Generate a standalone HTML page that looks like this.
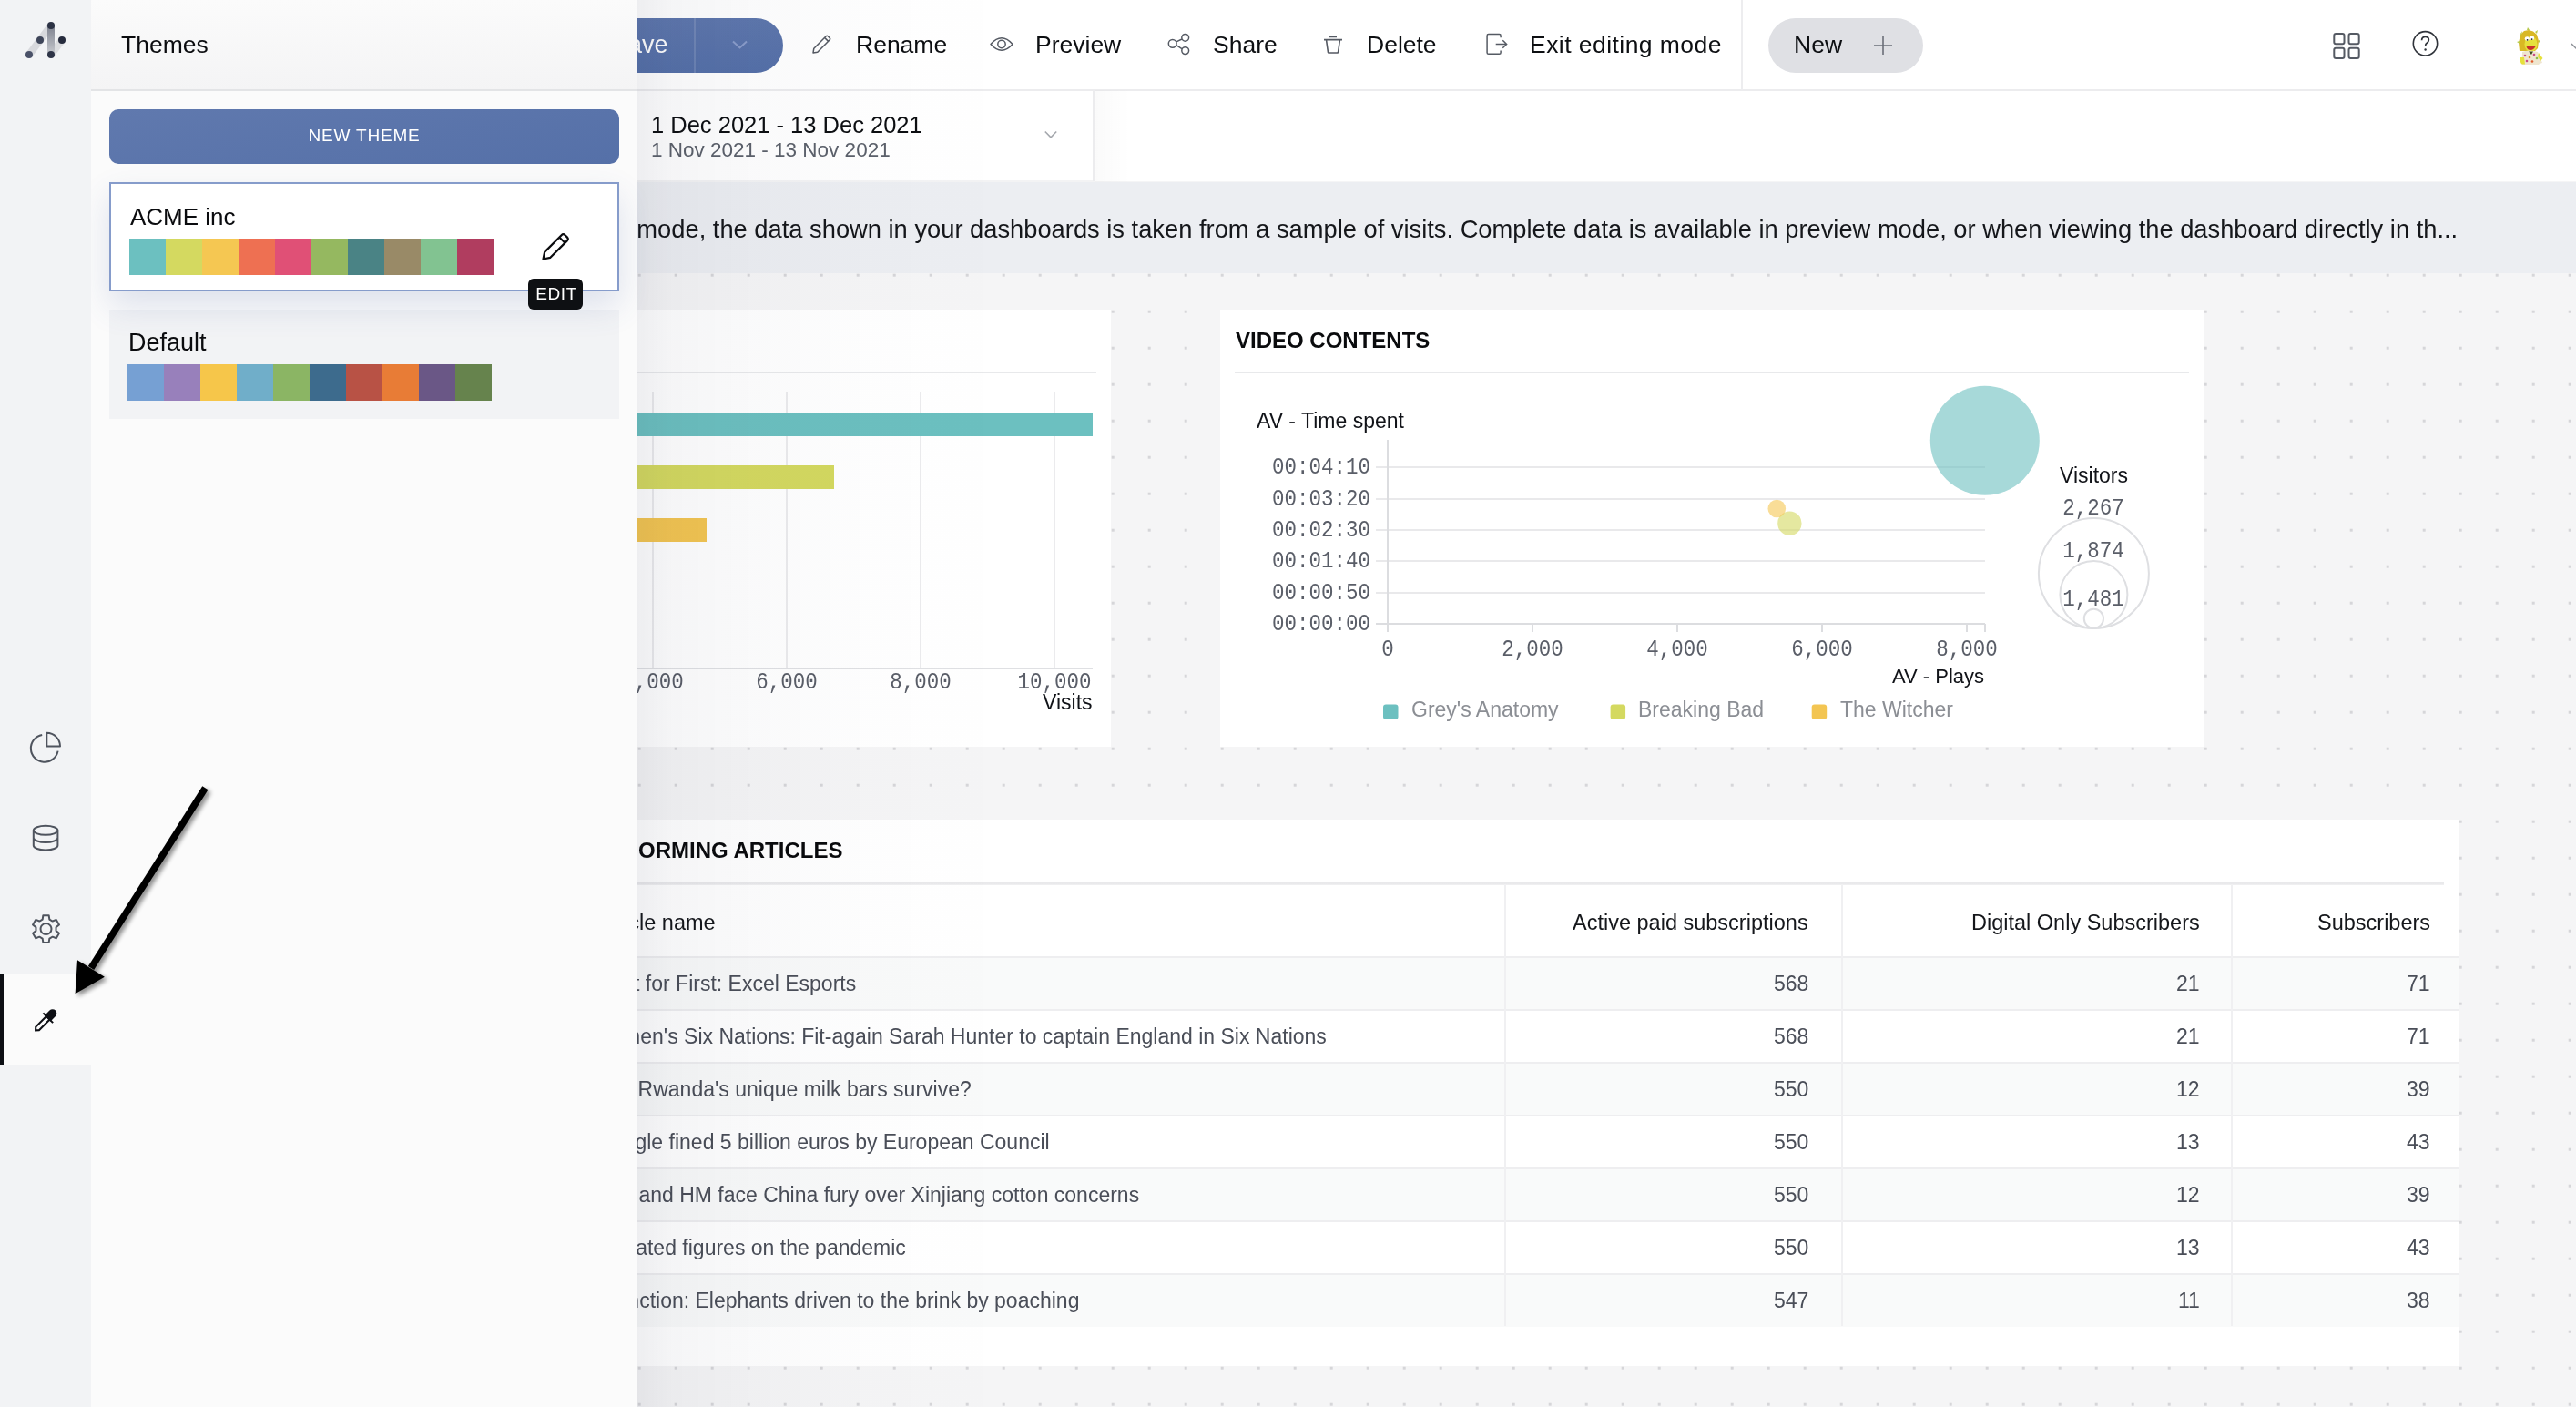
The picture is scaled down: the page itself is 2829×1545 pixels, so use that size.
<!DOCTYPE html>
<html><head><meta charset="utf-8">
<style>
*{margin:0;padding:0;box-sizing:border-box}
html,body{width:2829px;height:1545px;overflow:hidden}
body{position:relative;font-family:"Liberation Sans",sans-serif;background:#f5f5f6;color:#101216}
.a{position:absolute}
.t{position:absolute;white-space:nowrap;line-height:1;will-change:transform}
.dots{position:absolute;left:100px;top:300px;width:2729px;height:1245px;
 background-image:conic-gradient(at 2.6px 2.6px,rgba(0,0,0,0) 75%,#d6d6d9 75%);
 background-size:40px 40px;background-position:-79.3px -279.3px}
svg{position:absolute;overflow:visible}
</style></head><body>
<div class="dots"></div>

<div class="a" style="left:100px;top:0;width:2729px;height:99px;background:#fff"></div>
<div class="a" style="left:100px;top:98px;width:2729px;height:2px;background:#ececee"></div>
<div class="a" style="left:100px;top:100px;width:2729px;height:99px;background:#fff"></div>
<div class="a" style="left:100px;top:198px;width:1102px;height:2px;background:#f3f3f4"></div>
<div class="a" style="left:1200px;top:99px;width:2px;height:100px;background:#ececee"></div>
<div class="a" style="left:1202px;top:99px;width:40px;height:101px;background:linear-gradient(to right,rgba(0,0,0,0.018),rgba(0,0,0,0))"></div>
<div class="a" style="left:100px;top:200px;width:2729px;height:100px;background:#eceef2"></div>
<div class="t" style="top:237.60px;font-size:27.3px;color:#15171b;font-family:'Liberation Sans',sans-serif;right:130.00px;text-align:right;">In editing mode, the data shown in your dashboards is taken from a sample of visits. Complete data is available in preview mode, or when viewing the dashboard directly in th...</div>
<div class="a" style="left:560px;top:20px;width:300px;height:60px;border-radius:0 30px 30px 0;background:linear-gradient(#5e77ad,#5570a8)"></div>
<div class="a" style="left:762px;top:20px;width:2px;height:60px;background:rgba(255,255,255,0.13)"></div>
<svg style="left:804px;top:44px" width="17" height="10" viewBox="0 0 17 10"><path d="M1 1.5 L8.5 8.5 L16 1.5" fill="none" stroke="#8a9dca" stroke-width="2"/></svg>
<div class="t" style="top:35.85px;font-size:27px;color:#ffffff;font-family:'Liberation Sans',sans-serif;right:2095.00px;text-align:right;font-weight:400;">Save</div>
<svg style="left:890px;top:36px" width="24" height="24" viewBox="0 0 24 24"><path d="M3 22 L3.8 17.2 L17.2 3.8 Q18.2 2.8 19.2 3.8 L21.2 5.8 Q22.2 6.8 21.2 7.8 L7.8 21.2 Z M15.6 5.4 L19.6 9.4" fill="none" stroke="#555a63" stroke-width="1.5" stroke-linejoin="round"/></svg>
<div class="t" style="top:36.07px;font-size:26.5px;color:#0d0f12;font-family:'Liberation Sans',sans-serif;left:940.00px;">Rename</div>
<svg style="left:1086px;top:36px" width="28" height="26" viewBox="0 0 28 26"><path d="M2 12.5 Q14 -1 26 12.5 Q14 26 2 12.5 Z" fill="none" stroke="#555a63" stroke-width="1.5" stroke-linejoin="round"/><circle cx="14" cy="12.5" r="4.2" fill="none" stroke="#555a63" stroke-width="1.5"/></svg>
<div class="t" style="top:36.07px;font-size:26.5px;color:#0d0f12;font-family:'Liberation Sans',sans-serif;left:1137.00px;">Preview</div>
<svg style="left:1280px;top:34px" width="28" height="28" viewBox="0 0 28 28"><circle cx="7.7" cy="13.8" r="4.4" fill="none" stroke="#555a63" stroke-width="1.5"/><circle cx="21.7" cy="7.3" r="3.9" fill="none" stroke="#555a63" stroke-width="1.5"/><circle cx="21.7" cy="21.6" r="3.9" fill="none" stroke="#555a63" stroke-width="1.5"/><path d="M11.8 11.9 L18 9 M11.8 15.7 L18 19.6" stroke="#555a63" stroke-width="1.5"/></svg>
<div class="t" style="top:36.07px;font-size:26.5px;color:#0d0f12;font-family:'Liberation Sans',sans-serif;left:1332.00px;">Share</div>
<svg style="left:1450px;top:36px" width="28" height="26" viewBox="0 0 28 26"><path d="M4 7.6 L24 7.6 M10 4.4 L18 4.4 M6.5 7.6 L8.5 21.5 Q8.6 22 9.2 22 L18.8 22 Q19.4 22 19.5 21.5 L21.5 7.6" fill="none" stroke="#555a63" stroke-width="1.6"/></svg>
<div class="t" style="top:36.07px;font-size:26.5px;color:#0d0f12;font-family:'Liberation Sans',sans-serif;left:1501.00px;">Delete</div>
<svg style="left:1630px;top:35px" width="28" height="28" viewBox="0 0 28 28"><path d="M18.1 6.3 L18.1 4.2 Q18.1 2.6 16.5 2.6 L4.7 2.6 Q3.1 2.6 3.1 4.2 L3.1 22.7 Q3.1 24.3 4.7 24.3 L16.5 24.3 Q18.1 24.3 18.1 22.7 L18.1 20.6 M12.7 13.5 L24.6 13.5 M20.3 9.3 L24.6 13.5 L20.3 17.7" fill="none" stroke="#555a63" stroke-width="1.5"/></svg>
<div class="t" style="top:36.07px;font-size:26.5px;color:#0d0f12;font-family:'Liberation Sans',sans-serif;left:1680.00px;letter-spacing:0.45px;">Exit editing mode</div>
<div class="a" style="left:1912px;top:0;width:2px;height:99px;background:#ededef"></div>
<div class="a" style="left:1942px;top:20px;width:170px;height:60px;border-radius:30px;background:#dfe0e4"></div>
<div class="t" style="top:36.07px;font-size:26.5px;color:#0d0f12;font-family:'Liberation Sans',sans-serif;left:1970.00px;">New</div>
<svg style="left:2056px;top:38px" width="24" height="24" viewBox="0 0 24 24"><path d="M12 2 L12 22 M2 12 L22 12" stroke="#6b6f78" stroke-width="1.6"/></svg>
<svg style="left:2560px;top:34px" width="34" height="32" viewBox="0 0 34 32"><rect x="3.3" y="3" width="11.2" height="11.2" rx="2" fill="none" stroke="#555a63" stroke-width="2"/><rect x="19.5" y="3" width="11.2" height="11.2" rx="2" fill="none" stroke="#555a63" stroke-width="2"/><rect x="3.3" y="18.8" width="11.2" height="11.2" rx="2" fill="none" stroke="#555a63" stroke-width="2"/><rect x="19.5" y="18.8" width="11.2" height="11.2" rx="2" fill="none" stroke="#555a63" stroke-width="2"/></svg>
<svg style="left:2648px;top:32px" width="32" height="32" viewBox="0 0 32 32"><circle cx="15.5" cy="15.8" r="13.2" fill="none" stroke="#2f333a" stroke-width="1.6"/><path d="M11.6 12.2 Q11.6 8.3 15.6 8.3 Q19.4 8.3 19.4 11.8 Q19.4 14 17.2 15.2 Q15.6 16.1 15.6 18.4" fill="none" stroke="#2f333a" stroke-width="1.7"/><circle cx="15.6" cy="22.5" r="1.2" fill="#2f333a"/></svg>
<svg style="left:2755px;top:25px" width="45" height="50" viewBox="0 0 45 50">
<path d="M12 31 L11 22 L13 13 L17 9 L22 8 L27 9.5 L31 13 L33 20 L32 28 L29 31 Z" fill="#d9b824"/>
<path d="M13 12 L15 9 L14 14 Z M20 8 L21 5 L23 8 Z M29 10 L32 8 L31 12 Z M12 20 L9 21 L12 23 Z M33 19 L35 20 L33 22 Z" fill="#b8c94a"/>
<ellipse cx="24.5" cy="23.5" rx="7" ry="8.5" fill="#e6e13c"/>
<ellipse cx="20.3" cy="17.5" rx="2.6" ry="2.2" fill="#fff"/><ellipse cx="25.6" cy="16.8" rx="2.6" ry="2.2" fill="#fff"/>
<circle cx="20.6" cy="18.8" r="0.9" fill="#222"/><circle cx="25.6" cy="18.1" r="0.9" fill="#222"/>
<path d="M19.5 26.2 Q24.5 25 29.5 26 Q27.5 30 24 30 Q20.5 29.6 19.5 26.2 Z" fill="#c8302c"/>
<path d="M15 32 Q22 29 32 32 L37 44 L34 45 L33 46 L14.5 46 Z" fill="#efe6cf"/>
<circle cx="18" cy="36" r="1.3" fill="#c94c86"/><circle cx="23" cy="38" r="1.3" fill="#e0902c"/><circle cx="28" cy="35" r="1.3" fill="#c94c86"/>
<circle cx="20" cy="42" r="1.3" fill="#c94c86"/><circle cx="26" cy="42.5" r="1.3" fill="#e35a2a"/><circle cx="31" cy="39" r="1.3" fill="#8cbf4a"/>
<path d="M22 31.5 L25 35 L27 31.5 Z" fill="#3f4a22"/>
<path d="M13 38 Q12 45 15 45.5 L18 45.5 L17 38 Z" fill="#e6e13c"/>
<path d="M33 33 L37.5 39 L35 42 L32 37 Z" fill="#e6e13c"/>
</svg>
<svg style="left:2823px;top:46.5px" width="14" height="10" viewBox="0 0 14 10"><path d="M1 1 L7 7 L13 1" fill="none" stroke="#8c9097" stroke-width="1.5"/></svg>
<div class="t" style="top:125.12px;font-size:25.5px;color:#0d0f12;font-family:'Liberation Sans',sans-serif;left:715.00px;">1 Dec 2021 - 13 Dec 2021</div>
<div class="t" style="top:153.68px;font-size:22.5px;color:#5c616b;font-family:'Liberation Sans',sans-serif;left:715.00px;">1 Nov 2021 - 13 Nov 2021</div>
<svg style="left:1146px;top:143px" width="16" height="10" viewBox="0 0 16 10"><path d="M1.8 1.5 L8 7.8 L14.2 1.5" fill="none" stroke="#a4a7ad" stroke-width="1.6"/></svg>
<div class="a" style="left:560px;top:340px;width:660px;height:480px;background:#fff"></div>
<div class="a" style="left:560px;top:408px;width:644px;height:2px;background:#e8e9eb"></div>
<div class="a" style="left:568.5px;top:430px;width:2px;height:304px;background:#ebebed"></div>
<div class="a" style="left:715.6px;top:430px;width:2px;height:304px;background:#ebebed"></div>
<div class="a" style="left:862.7px;top:430px;width:2px;height:304px;background:#ebebed"></div>
<div class="a" style="left:1009.8px;top:430px;width:2px;height:304px;background:#ebebed"></div>
<div class="a" style="left:1157.0px;top:430px;width:2px;height:304px;background:#ebebed"></div>
<div class="a" style="left:560px;top:733px;width:640px;height:2px;background:#dfe0e3"></div>
<div class="a" style="left:560px;top:453px;width:640px;height:26px;background:#6cc0c0"></div>
<div class="a" style="left:560px;top:511px;width:356px;height:26px;background:#d4d960"></div>
<div class="a" style="left:560px;top:569px;width:216px;height:26px;background:#f3c552"></div>
<div class="t" style="top:738.00px;font-size:22.5px;color:#5a5e68;font-family:'Liberation Mono',monospace;transform:scaleY(1.16);transform-origin:50% 9.45px;left:216.60px;width:1000px;text-align:center;">4,000</div>
<div class="t" style="top:738.00px;font-size:22.5px;color:#5a5e68;font-family:'Liberation Mono',monospace;transform:scaleY(1.16);transform-origin:50% 9.45px;left:363.70px;width:1000px;text-align:center;">6,000</div>
<div class="t" style="top:738.00px;font-size:22.5px;color:#5a5e68;font-family:'Liberation Mono',monospace;transform:scaleY(1.16);transform-origin:50% 9.45px;left:510.80px;width:1000px;text-align:center;">8,000</div>
<div class="t" style="top:738.00px;font-size:22.5px;color:#5a5e68;font-family:'Liberation Mono',monospace;transform:scaleY(1.16);transform-origin:50% 9.45px;left:658.00px;width:1000px;text-align:center;">10,000</div>
<div class="t" style="top:759.65px;font-size:23px;color:#111318;font-family:'Liberation Sans',sans-serif;right:1629.00px;text-align:right;">Visits</div>
<div class="a" style="left:1340px;top:340px;width:1080px;height:480px;background:#fff"></div>
<div class="t" style="top:362.40px;font-size:24px;color:#0a0b0d;font-family:'Liberation Sans',sans-serif;font-weight:700;left:1356.50px;">VIDEO CONTENTS</div>
<div class="a" style="left:1356px;top:408px;width:1048px;height:2px;background:#e8e9eb"></div>
<div class="t" style="top:451.25px;font-size:23px;color:#111318;font-family:'Liberation Sans',sans-serif;left:1380.00px;">AV - Time spent</div>
<div class="a" style="left:1511px;top:511.8px;width:669px;height:2px;background:#e9e9eb"></div>
<div class="t" style="top:501.85px;font-size:22.5px;color:#5a5e68;font-family:'Liberation Mono',monospace;transform:scaleY(1.16);transform-origin:50% 9.45px;right:1323.50px;text-align:right;">00:04:10</div>
<div class="a" style="left:1511px;top:546.8px;width:669px;height:2px;background:#e9e9eb"></div>
<div class="t" style="top:536.85px;font-size:22.5px;color:#5a5e68;font-family:'Liberation Mono',monospace;transform:scaleY(1.16);transform-origin:50% 9.45px;right:1323.50px;text-align:right;">00:03:20</div>
<div class="a" style="left:1511px;top:581.0px;width:669px;height:2px;background:#e9e9eb"></div>
<div class="t" style="top:571.05px;font-size:22.5px;color:#5a5e68;font-family:'Liberation Mono',monospace;transform:scaleY(1.16);transform-origin:50% 9.45px;right:1323.50px;text-align:right;">00:02:30</div>
<div class="a" style="left:1511px;top:615.3px;width:669px;height:2px;background:#e9e9eb"></div>
<div class="t" style="top:605.35px;font-size:22.5px;color:#5a5e68;font-family:'Liberation Mono',monospace;transform:scaleY(1.16);transform-origin:50% 9.45px;right:1323.50px;text-align:right;">00:01:40</div>
<div class="a" style="left:1511px;top:649.6px;width:669px;height:2px;background:#e9e9eb"></div>
<div class="t" style="top:639.65px;font-size:22.5px;color:#5a5e68;font-family:'Liberation Mono',monospace;transform:scaleY(1.16);transform-origin:50% 9.45px;right:1323.50px;text-align:right;">00:00:50</div>
<div class="a" style="left:1511px;top:683.9px;width:669px;height:2px;background:#e9e9eb"></div>
<div class="t" style="top:673.95px;font-size:22.5px;color:#5a5e68;font-family:'Liberation Mono',monospace;transform:scaleY(1.16);transform-origin:50% 9.45px;right:1323.50px;text-align:right;">00:00:00</div>
<div class="a" style="left:1511px;top:684px;width:669px;height:2px;background:#dcdde0"></div>
<div class="a" style="left:1523.3px;top:483px;width:2px;height:211px;background:#dcdde0"></div>
<div class="a" style="left:1523.3px;top:685px;width:2px;height:9px;background:#dcdde0"></div>
<div class="t" style="top:701.70px;font-size:22.5px;color:#5a5e68;font-family:'Liberation Mono',monospace;transform:scaleY(1.16);transform-origin:50% 9.45px;left:1024.30px;width:1000px;text-align:center;">0</div>
<div class="a" style="left:1681.7px;top:685px;width:2px;height:9px;background:#dcdde0"></div>
<div class="t" style="top:701.70px;font-size:22.5px;color:#5a5e68;font-family:'Liberation Mono',monospace;transform:scaleY(1.16);transform-origin:50% 9.45px;left:1182.70px;width:1000px;text-align:center;">2,000</div>
<div class="a" style="left:1840.6px;top:685px;width:2px;height:9px;background:#dcdde0"></div>
<div class="t" style="top:701.70px;font-size:22.5px;color:#5a5e68;font-family:'Liberation Mono',monospace;transform:scaleY(1.16);transform-origin:50% 9.45px;left:1341.60px;width:1000px;text-align:center;">4,000</div>
<div class="a" style="left:1999.9px;top:685px;width:2px;height:9px;background:#dcdde0"></div>
<div class="t" style="top:701.70px;font-size:22.5px;color:#5a5e68;font-family:'Liberation Mono',monospace;transform:scaleY(1.16);transform-origin:50% 9.45px;left:1500.90px;width:1000px;text-align:center;">6,000</div>
<div class="a" style="left:2159.0px;top:685px;width:2px;height:9px;background:#dcdde0"></div>
<div class="t" style="top:701.70px;font-size:22.5px;color:#5a5e68;font-family:'Liberation Mono',monospace;transform:scaleY(1.16);transform-origin:50% 9.45px;left:1660.00px;width:1000px;text-align:center;">8,000</div>
<div class="a" style="left:2179px;top:685px;width:2px;height:9px;background:#dcdde0"></div>
<div class="t" style="top:731.90px;font-size:22px;color:#111318;font-family:'Liberation Sans',sans-serif;right:649.50px;text-align:right;">AV - Plays</div>
<svg style="left:1340px;top:340px" width="1080" height="480" viewBox="1340 340 1080 480">
<circle cx="2179.8" cy="483.7" r="60" fill="rgba(108,192,192,0.6)"/>
<circle cx="1965.4" cy="574.7" r="13.2" fill="rgba(212,217,96,0.6)"/>
<circle cx="1951.3" cy="558.5" r="9.8" fill="rgba(245,199,82,0.6)"/>
<circle cx="2299.4" cy="629.5" r="60.5" fill="none" stroke="#dedfe2" stroke-width="2"/>
<circle cx="2299.4" cy="653" r="37" fill="none" stroke="#dedfe2" stroke-width="2"/>
<circle cx="2299.4" cy="679.3" r="10.6" fill="none" stroke="#dedfe2" stroke-width="2"/>
<rect x="1519" y="773.5" width="16.5" height="16.5" rx="3" fill="#6cc0c0"/>
<rect x="1768.6" y="773.5" width="16.5" height="16.5" rx="3" fill="#d4d960"/>
<rect x="1989.7" y="773.5" width="16.5" height="16.5" rx="3" fill="#f3c552"/>
</svg>
<div class="t" style="top:510.65px;font-size:23px;color:#111318;font-family:'Liberation Sans',sans-serif;left:2261.70px;">Visitors</div>
<div class="t" style="top:547.30px;font-size:22.5px;color:#5a5e68;font-family:'Liberation Mono',monospace;transform:scaleY(1.16);transform-origin:50% 9.45px;left:1799.40px;width:1000px;text-align:center;">2,267</div>
<div class="t" style="top:593.55px;font-size:22.5px;color:#5a5e68;font-family:'Liberation Mono',monospace;transform:scaleY(1.16);transform-origin:50% 9.45px;left:1799.40px;width:1000px;text-align:center;">1,874</div>
<div class="t" style="top:647.25px;font-size:22.5px;color:#5a5e68;font-family:'Liberation Mono',monospace;transform:scaleY(1.16);transform-origin:50% 9.45px;left:1799.40px;width:1000px;text-align:center;">1,481</div>
<div class="t" style="top:767.75px;font-size:23px;color:#8b8e94;font-family:'Liberation Sans',sans-serif;left:1550.00px;">Grey's Anatomy</div>
<div class="t" style="top:767.75px;font-size:23px;color:#8b8e94;font-family:'Liberation Sans',sans-serif;left:1799.00px;">Breaking Bad</div>
<div class="t" style="top:767.75px;font-size:23px;color:#8b8e94;font-family:'Liberation Sans',sans-serif;left:2020.50px;">The Witcher</div>
<div class="a" style="left:560px;top:900px;width:2140px;height:600px;background:#fff"></div>
<div class="t" style="top:922.40px;font-size:24px;color:#0a0b0d;font-family:'Liberation Sans',sans-serif;font-weight:700;left:700.50px;">ORMING ARTICLES</div>
<div class="a" style="left:560px;top:968px;width:2124px;height:4px;background:linear-gradient(#e9e9eb 0,#e9e9eb 60%,#f2f2f3 100%)"></div>
<div class="a" style="left:560px;top:1051px;width:2140px;height:58px;background:#f9fafa"></div>
<div class="a" style="left:560px;top:1109px;width:2140px;height:58px;background:#ffffff"></div>
<div class="a" style="left:560px;top:1167px;width:2140px;height:58px;background:#f9fafa"></div>
<div class="a" style="left:560px;top:1225px;width:2140px;height:58px;background:#ffffff"></div>
<div class="a" style="left:560px;top:1283px;width:2140px;height:58px;background:#f9fafa"></div>
<div class="a" style="left:560px;top:1341px;width:2140px;height:58px;background:#ffffff"></div>
<div class="a" style="left:560px;top:1399px;width:2140px;height:58px;background:#f9fafa"></div>
<div class="a" style="left:560px;top:1050px;width:2140px;height:2px;background:#eeeef0"></div>
<div class="a" style="left:560px;top:1108px;width:2140px;height:2px;background:#eeeef0"></div>
<div class="a" style="left:560px;top:1166px;width:2140px;height:2px;background:#eeeef0"></div>
<div class="a" style="left:560px;top:1224px;width:2140px;height:2px;background:#eeeef0"></div>
<div class="a" style="left:560px;top:1282px;width:2140px;height:2px;background:#eeeef0"></div>
<div class="a" style="left:560px;top:1340px;width:2140px;height:2px;background:#eeeef0"></div>
<div class="a" style="left:560px;top:1398px;width:2140px;height:2px;background:#eeeef0"></div>
<div class="a" style="left:1652px;top:971px;width:2px;height:485px;background:#f0f0f2"></div>
<div class="a" style="left:2022px;top:971px;width:2px;height:485px;background:#f0f0f2"></div>
<div class="a" style="left:2450px;top:971px;width:2px;height:485px;background:#f0f0f2"></div>
<div class="t" style="top:1001.62px;font-size:23.5px;color:#15171b;font-family:'Liberation Sans',sans-serif;left:655.30px;">Article name</div>
<div class="t" style="top:1001.62px;font-size:23.5px;color:#15171b;font-family:'Liberation Sans',sans-serif;right:843.00px;text-align:right;">Active paid subscriptions</div>
<div class="t" style="top:1001.62px;font-size:23.5px;color:#15171b;font-family:'Liberation Sans',sans-serif;right:413.50px;text-align:right;">Digital Only Subscribers</div>
<div class="t" style="top:1001.62px;font-size:23.5px;color:#15171b;font-family:'Liberation Sans',sans-serif;right:160.00px;text-align:right;">Subscribers</div>
<div class="t" style="top:1069.25px;font-size:23px;color:#4a4e58;font-family:'Liberation Sans',sans-serif;left:659.14px;">Last for First: Excel Esports</div>
<div class="t" style="top:1069.25px;font-size:23px;color:#4a4e58;font-family:'Liberation Sans',sans-serif;right:843.00px;text-align:right;">568</div>
<div class="t" style="top:1069.25px;font-size:23px;color:#4a4e58;font-family:'Liberation Sans',sans-serif;right:413.50px;text-align:right;">21</div>
<div class="t" style="top:1069.25px;font-size:23px;color:#4a4e58;font-family:'Liberation Sans',sans-serif;right:160.00px;text-align:right;">71</div>
<div class="t" style="top:1127.25px;font-size:23px;color:#4a4e58;font-family:'Liberation Sans',sans-serif;left:650.06px;">Women's Six Nations: Fit-again Sarah Hunter to captain England in Six Nations</div>
<div class="t" style="top:1127.25px;font-size:23px;color:#4a4e58;font-family:'Liberation Sans',sans-serif;right:843.00px;text-align:right;">568</div>
<div class="t" style="top:1127.25px;font-size:23px;color:#4a4e58;font-family:'Liberation Sans',sans-serif;right:413.50px;text-align:right;">21</div>
<div class="t" style="top:1127.25px;font-size:23px;color:#4a4e58;font-family:'Liberation Sans',sans-serif;right:160.00px;text-align:right;">71</div>
<div class="t" style="top:1185.25px;font-size:23px;color:#4a4e58;font-family:'Liberation Sans',sans-serif;left:651.92px;">Can Rwanda's unique milk bars survive?</div>
<div class="t" style="top:1185.25px;font-size:23px;color:#4a4e58;font-family:'Liberation Sans',sans-serif;right:843.00px;text-align:right;">550</div>
<div class="t" style="top:1185.25px;font-size:23px;color:#4a4e58;font-family:'Liberation Sans',sans-serif;right:413.50px;text-align:right;">12</div>
<div class="t" style="top:1185.25px;font-size:23px;color:#4a4e58;font-family:'Liberation Sans',sans-serif;right:160.00px;text-align:right;">39</div>
<div class="t" style="top:1243.25px;font-size:23px;color:#4a4e58;font-family:'Liberation Sans',sans-serif;left:653.74px;">Google fined 5 billion euros by European Council</div>
<div class="t" style="top:1243.25px;font-size:23px;color:#4a4e58;font-family:'Liberation Sans',sans-serif;right:843.00px;text-align:right;">550</div>
<div class="t" style="top:1243.25px;font-size:23px;color:#4a4e58;font-family:'Liberation Sans',sans-serif;right:413.50px;text-align:right;">13</div>
<div class="t" style="top:1243.25px;font-size:23px;color:#4a4e58;font-family:'Liberation Sans',sans-serif;right:160.00px;text-align:right;">43</div>
<div class="t" style="top:1301.25px;font-size:23px;color:#4a4e58;font-family:'Liberation Sans',sans-serif;left:649.30px;">Nike and HM face China fury over Xinjiang cotton concerns</div>
<div class="t" style="top:1301.25px;font-size:23px;color:#4a4e58;font-family:'Liberation Sans',sans-serif;right:843.00px;text-align:right;">550</div>
<div class="t" style="top:1301.25px;font-size:23px;color:#4a4e58;font-family:'Liberation Sans',sans-serif;right:413.50px;text-align:right;">12</div>
<div class="t" style="top:1301.25px;font-size:23px;color:#4a4e58;font-family:'Liberation Sans',sans-serif;right:160.00px;text-align:right;">39</div>
<div class="t" style="top:1359.25px;font-size:23px;color:#4a4e58;font-family:'Liberation Sans',sans-serif;left:656.02px;">Updated figures on the pandemic</div>
<div class="t" style="top:1359.25px;font-size:23px;color:#4a4e58;font-family:'Liberation Sans',sans-serif;right:843.00px;text-align:right;">550</div>
<div class="t" style="top:1359.25px;font-size:23px;color:#4a4e58;font-family:'Liberation Sans',sans-serif;right:413.50px;text-align:right;">13</div>
<div class="t" style="top:1359.25px;font-size:23px;color:#4a4e58;font-family:'Liberation Sans',sans-serif;right:160.00px;text-align:right;">43</div>
<div class="t" style="top:1417.25px;font-size:23px;color:#4a4e58;font-family:'Liberation Sans',sans-serif;left:651.17px;">Extinction: Elephants driven to the brink by poaching</div>
<div class="t" style="top:1417.25px;font-size:23px;color:#4a4e58;font-family:'Liberation Sans',sans-serif;right:843.00px;text-align:right;">547</div>
<div class="t" style="top:1417.25px;font-size:23px;color:#4a4e58;font-family:'Liberation Sans',sans-serif;right:413.50px;text-align:right;">11</div>
<div class="t" style="top:1417.25px;font-size:23px;color:#4a4e58;font-family:'Liberation Sans',sans-serif;right:160.00px;text-align:right;">38</div>
<div class="a" style="left:700px;top:0;width:420px;height:1545px;background:linear-gradient(to right,rgba(25,30,60,0.075) 0px,rgba(25,30,60,0.045) 40px,rgba(25,30,60,0.022) 130px,rgba(25,30,60,0.008) 260px,rgba(25,30,60,0) 420px)"></div>
<div class="a" style="left:100px;top:0;width:600px;height:1545px;background:#fbfbfb;"></div>
<div class="a" style="left:100px;top:0;width:600px;height:98px;background:linear-gradient(#fbfbfb,#f4f4f5)"></div>
<div class="a" style="left:100px;top:98px;width:600px;height:2px;background:#e3e4e6"></div>
<div class="t" style="top:36.27px;font-size:26.5px;color:#0b0c0f;font-family:'Liberation Sans',sans-serif;left:133.00px;">Themes</div>
<div class="a" style="left:120px;top:120px;width:560px;height:60px;border-radius:10px;background:linear-gradient(170deg,#6079ae,#5570a8)"></div>
<div class="t" style="top:138.65px;font-size:19px;color:#ffffff;font-family:'Liberation Sans',sans-serif;left:-100.00px;width:1000px;text-align:center;letter-spacing:0.8px;">NEW THEME</div>
<div class="a" style="left:120px;top:340px;width:560px;height:120px;background:#f2f3f5"></div>
<div class="t" style="top:362.85px;font-size:27px;color:#0b0c0f;font-family:'Liberation Sans',sans-serif;left:141.00px;">Default</div>
<div class="a" style="left:140px;top:400px;width:40px;height:40px;background:#76a0d3"></div>
<div class="a" style="left:180px;top:400px;width:40px;height:40px;background:#9880bb"></div>
<div class="a" style="left:220px;top:400px;width:40px;height:40px;background:#f6c64a"></div>
<div class="a" style="left:260px;top:400px;width:40px;height:40px;background:#70aec9"></div>
<div class="a" style="left:300px;top:400px;width:40px;height:40px;background:#8bb564"></div>
<div class="a" style="left:340px;top:400px;width:40px;height:40px;background:#3d6b8d"></div>
<div class="a" style="left:380px;top:400px;width:40px;height:40px;background:#b85245"></div>
<div class="a" style="left:420px;top:400px;width:40px;height:40px;background:#e87c36"></div>
<div class="a" style="left:460px;top:400px;width:40px;height:40px;background:#6a5786"></div>
<div class="a" style="left:500px;top:400px;width:40px;height:40px;background:#66834d"></div>
<div class="a" style="left:120px;top:200px;width:560px;height:120px;background:#fff;border:2px solid #869ccb;box-shadow:0 16px 34px rgba(70,95,160,0.16)"></div>
<div class="t" style="top:224.70px;font-size:26px;color:#0b0c0f;font-family:'Liberation Sans',sans-serif;left:142.60px;">ACME inc</div>
<div class="a" style="left:142px;top:262px;width:40px;height:40px;background:#6cc0c0"></div>
<div class="a" style="left:182px;top:262px;width:40px;height:40px;background:#d4d960"></div>
<div class="a" style="left:222px;top:262px;width:40px;height:40px;background:#f5c752"></div>
<div class="a" style="left:262px;top:262px;width:40px;height:40px;background:#ee7052"></div>
<div class="a" style="left:302px;top:262px;width:40px;height:40px;background:#e05076"></div>
<div class="a" style="left:342px;top:262px;width:40px;height:40px;background:#95b860"></div>
<div class="a" style="left:382px;top:262px;width:40px;height:40px;background:#4a8385"></div>
<div class="a" style="left:422px;top:262px;width:40px;height:40px;background:#998a67"></div>
<div class="a" style="left:462px;top:262px;width:40px;height:40px;background:#82c391"></div>
<div class="a" style="left:502px;top:262px;width:40px;height:40px;background:#b03d5f"></div>
<svg style="left:592px;top:252px" width="36" height="36" viewBox="0 0 36 36">
<path d="M4.5 32.5 L6.2 24.6 L24.6 6.2 Q26.6 4.2 28.6 6.2 L30.8 8.4 Q32.8 10.4 30.8 12.4 L12.4 30.8 Z M22.3 8.5 L28.5 14.7" fill="none" stroke="#0b0c0f" stroke-width="2.2" stroke-linejoin="round"/>
</svg>
<div class="a" style="left:580px;top:306px;width:60px;height:34px;border-radius:6px;background:#0e1013"></div>
<div class="t" style="top:312.85px;font-size:19px;color:#ffffff;font-family:'Liberation Sans',sans-serif;left:110.50px;width:1000px;text-align:center;letter-spacing:0.6px;">EDIT</div>
<div class="a" style="left:0;top:0;width:100px;height:1545px;background:#f2f3f5"></div>
<svg style="left:0;top:0" width="100" height="100" viewBox="0 0 100 100">
<defs><linearGradient id="lg1" gradientUnits="userSpaceOnUse" x1="0" y1="28" x2="0" y2="60"><stop offset="0" stop-color="#7d818e"/><stop offset="1" stop-color="#c9cbd0"/></linearGradient></defs>
<path d="M32 60 L56 28" stroke="#d8d9dd" stroke-width="8"/>
<path d="M56 60 L68 44" stroke="#dcdde0" stroke-width="8"/>
<path d="M56 28 L56 60" stroke="url(#lg1)" stroke-width="8"/>
<circle cx="56" cy="28" r="4" fill="#2c3244"/><circle cx="44" cy="44" r="4" fill="#3e4559"/><circle cx="68" cy="44" r="4" fill="#262b3d"/>
<circle cx="32" cy="60" r="4" fill="#4a5168"/><circle cx="56" cy="60" r="4" fill="#2e3447"/>
</svg>
<svg style="left:0;top:780px" width="100" height="400" viewBox="0 780 100 400">
<path d="M46.2 807 A15 15 0 1 0 63.6 824.6" fill="none" stroke="#4f545e" stroke-width="2"/>
<path d="M51.3 804.8 L51.3 819.5 L66 819.5 A14.7 14.7 0 0 0 51.3 804.8 Z" fill="none" stroke="#4f545e" stroke-width="2" stroke-linejoin="round"/>
<ellipse cx="50.1" cy="911.8" rx="13.3" ry="5" fill="none" stroke="#4f545e" stroke-width="2"/>
<path d="M36.8 911.8 L36.8 928.5 A13.3 5 0 0 0 63.4 928.5 L63.4 911.8 M36.8 920 A13.3 5 0 0 0 63.4 920" fill="none" stroke="#4f545e" stroke-width="2"/>
<circle cx="50.5" cy="1020.1" r="6" fill="none" stroke="#4f545e" stroke-width="2"/>
</svg>
<svg style="left:0;top:980px" width="100" height="80" viewBox="0 980 100 80"><path d="M47.34 1005.23 L53.66 1005.23 L54.33 1009.58 L57.70 1011.52 L61.80 1009.93 L64.96 1015.40 L61.53 1018.16 L61.53 1022.04 L64.96 1024.80 L61.80 1030.27 L57.70 1028.68 L54.33 1030.62 L53.66 1034.97 L47.34 1034.97 L46.67 1030.62 L43.30 1028.68 L39.20 1030.27 L36.04 1024.80 L39.47 1022.04 L39.47 1018.16 L36.04 1015.40 L39.20 1009.93 L43.30 1011.52 L46.67 1009.58 Z" fill="none" stroke="#4f545e" stroke-width="2" stroke-linejoin="round"/></svg>
<div class="a" style="left:0;top:1070px;width:100px;height:100px;background:#fbfbfb"></div>
<div class="a" style="left:0;top:1070px;width:4px;height:100px;background:#0d0f14"></div>
<svg style="left:30px;top:1100px" width="40" height="40" viewBox="0 0 40 40">
<g transform="translate(22.75 17.75) rotate(-45)">
<path d="M0 -2.6 L-16.5 -2.6 L-19.3 0 L-16.5 2.6 L0 2.6" fill="none" stroke="#0d0f14" stroke-width="2.1" stroke-linejoin="miter"/>
<path d="M-1 -4.6 L7 -4.6 A4.6 4.6 0 0 1 7 4.6 L-1 4.6 Z" fill="#0d0f14"/>
<path d="M0 -7.6 L0 7.6" stroke="#0d0f14" stroke-width="2.1"/>
</g></svg>
<svg style="left:0;top:0" width="300" height="1200" viewBox="0 0 300 1200">
<defs><filter id="sh" x="-50%" y="-50%" width="200%" height="200%"><feGaussianBlur in="SourceAlpha" stdDeviation="2.5"/><feOffset dx="3" dy="3"/><feComponentTransfer><feFuncA type="linear" slope="0.45"/></feComponentTransfer><feMerge><feMergeNode/><feMergeNode in="SourceGraphic"/></feMerge></filter></defs>
<g filter="url(#sh)">
<path d="M225.4 865.2 L100 1063" stroke="#000" stroke-width="7.5"/>
<path d="M82.6 1091.2 L85 1054.3 L114.9 1072.7 Z" fill="#000"/>
</g></svg>
</body></html>
